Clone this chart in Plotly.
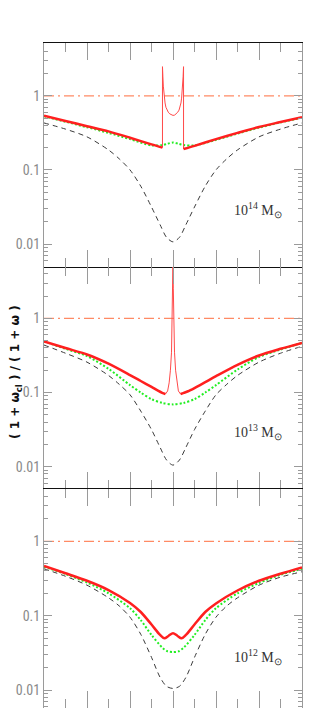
import plotly.graph_objects as go
from plotly.subplots import make_subplots

# ---------------- data ----------------
mass_labels = ["10<sup>14</sup> M<sub>⊙</sub>", "10<sup>13</sup> M<sub>⊙</sub>", "10<sup>12</sup> M<sub>⊙</sub>"]
ytick_vals = [0.01, 0.1, 1]
ytick_text = ["0.01", "0.1", "1"]
xtick_major = [-6, -4, -2, 0, 2, 4, 6]
xtick_minor = [-5, -3, -1, 1, 3, 5]

x_ref = [-6, 6]
y_ref = [1, 1]

x_dash = [-6, -5, -4, -3, -2.5, -2, -1.5, -1, -0.6, -0.3, 0, 0.3, 0.6, 1, 1.5, 2, 2.5, 3, 4, 5, 6]
# panel 1 (10^14)
p1_dash = [0.43, 0.355, 0.279, 0.186, 0.141, 0.100, 0.0603, 0.0316, 0.0182, 0.0123, 0.0107,
           0.0123, 0.0182, 0.0316, 0.0603, 0.100, 0.141, 0.186, 0.279, 0.355, 0.43]
p1_green_x = [-6, -5, -4, -3, -2, -1, -0.5, -0.25, 0, 0.25, 0.5, 1, 2, 3, 4, 5, 6]
p1_green = [0.531, 0.447, 0.376, 0.316, 0.260, 0.214, 0.216, 0.226, 0.234, 0.226, 0.216, 0.214,
            0.254, 0.309, 0.372, 0.437, 0.507]
p1_red_left_x = [-6, -5, -4, -3, -2, -1, -0.49]
p1_red_left = [0.537, 0.457, 0.389, 0.331, 0.272, 0.221, 0.200]
p1_red_right_x = [0.49, 1, 2, 3, 4, 5, 6]
p1_red_right = [0.191, 0.211, 0.260, 0.316, 0.380, 0.442, 0.513]
p1_thin_x = [-0.49, -0.49, -0.47, -0.45, -0.43, -0.40, -0.37, -0.33, -0.28, -0.22, -0.15, -0.08, 0,
             0.08, 0.15, 0.22, 0.28, 0.33, 0.37, 0.40, 0.43, 0.45, 0.47, 0.49, 0.49]
p1_thin = [0.200, 2.47, 1.8, 1.35, 1.15, 0.93, 0.80, 0.70, 0.64, 0.60, 0.57, 0.55, 0.543,
           0.55, 0.57, 0.60, 0.64, 0.70, 0.80, 0.93, 1.15, 1.35, 1.8, 2.47, 0.191]

# panel 2 (10^13)
p2_dash = [0.437, 0.339, 0.257, 0.170, 0.129, 0.0933, 0.0562, 0.0316, 0.0182, 0.0123, 0.0105,
           0.0123, 0.0182, 0.0316, 0.0562, 0.0933, 0.129, 0.170, 0.257, 0.339, 0.42]
p2_green_x = [-6, -5, -4, -3, -2, -1.5, -1, -0.5, 0, 0.5, 1, 1.5, 2, 3, 4, 5, 6]
p2_green = [0.490, 0.389, 0.309, 0.209, 0.126, 0.100, 0.0813, 0.0724, 0.0692, 0.0724, 0.0813,
            0.100, 0.126, 0.204, 0.302, 0.380, 0.468]
p2_red_left_x = [-6, -5, -4, -3, -2, -1.5, -1, -0.7, -0.5, -0.35]
p2_red_left = [0.490, 0.398, 0.326, 0.245, 0.172, 0.143, 0.119, 0.106, 0.099, 0.0955]
p2_red_right_x = [0.35, 0.5, 0.7, 1, 1.5, 2, 3, 4, 5, 6]
p2_red_right = [0.0955, 0.099, 0.104, 0.115, 0.138, 0.166, 0.236, 0.316, 0.389, 0.468]
p2_spike_x = [-0.35, -0.25, -0.18, -0.12, -0.07, -0.035, -0.015, 0,
              0.015, 0.035, 0.07, 0.12, 0.18, 0.25, 0.35]
p2_spike = [0.0955, 0.105, 0.135, 0.20, 0.35, 1.0, 2.5, 6.3,
            2.5, 1.0, 0.35, 0.20, 0.135, 0.105, 0.0955]

# panel 3 (10^12)
p3_dash = [0.427, 0.339, 0.257, 0.174, 0.135, 0.0955, 0.0562, 0.0275, 0.0148, 0.0112, 0.0105,
           0.0112, 0.0148, 0.0275, 0.0562, 0.0955, 0.135, 0.174, 0.257, 0.33, 0.39]
p3_green_x = [-6, -5, -4, -3, -2, -1.5, -1, -0.5, -0.25, 0, 0.25, 0.5, 1, 1.5, 2, 3, 4, 5, 6]
p3_green = [0.457, 0.363, 0.279, 0.200, 0.126, 0.0871, 0.0550, 0.0372, 0.0331, 0.0324, 0.0331,
            0.0372, 0.0550, 0.0871, 0.126, 0.200, 0.275, 0.355, 0.427]
p3_red_x = [-6, -5, -4, -3, -2, -1.5, -1, -0.6, -0.4, -0.2, 0, 0.2, 0.4, 0.6, 1, 1.5, 2, 3, 4, 5, 6]
p3_red = [0.465, 0.372, 0.295, 0.221, 0.148, 0.112, 0.0759, 0.0550, 0.0495, 0.0537, 0.0582,
          0.0537, 0.0495, 0.0550, 0.0759, 0.112, 0.146, 0.218, 0.295, 0.367, 0.447]

# ---------------- styles ----------------
C_DASH = "#3a3a3a"
C_GREEN = "#22ee22"
C_RED = "#ff1f1f"
C_THIN = "#ff4a4a"
C_REF = "#ff8a65"
TICK_C = "#9a9a9a"
LABEL_FONT = "Liberation Sans Narrow, Roboto Condensed, DejaVu Sans Condensed, Liberation Serif"

fig = make_subplots(rows=3, cols=1, vertical_spacing=0)


def add(row, x, y, color, width, dash, shape="spline"):
    fig.add_trace(go.Scatter(x=x, y=y, mode="lines",
                             line=dict(color=color, width=width, dash=dash, shape=shape,
                                       smoothing=0.8 if shape == "spline" else None),
                             showlegend=False, hoverinfo="skip"), row=row, col=1)


panels = [
    dict(dash=p1_dash, gx=p1_green_x, g=p1_green,
         reds=[(p1_red_left_x, p1_red_left), (p1_red_right_x, p1_red_right)],
         thin=(p1_thin_x, p1_thin)),
    dict(dash=p2_dash, gx=p2_green_x, g=p2_green,
         reds=[(p2_red_left_x, p2_red_left), (p2_red_right_x, p2_red_right)],
         thin=(p2_spike_x, p2_spike)),
    dict(dash=p3_dash, gx=p3_green_x, g=p3_green,
         reds=[(p3_red_x, p3_red)], thin=None),
]

for i, p in enumerate(panels, start=1):
    add(i, x_ref, y_ref, C_REF, 1.2, "10px,4px,2px,4px", "linear")
    add(i, x_dash, p["dash"], C_DASH, 1, "5px,4px")
    add(i, p["gx"], p["g"], C_GREEN, 2, "2px,2px")
    if p["thin"] is not None:
        add(i, p["thin"][0], p["thin"][1], C_THIN, 1, "solid", "linear")
    for rx, ry in p["reds"]:
        add(i, rx, ry, C_RED, 2.5, "solid")

# layout geometry (page body has an 8px margin, so coordinates are shifted by 8)
OFF = 8
W, H = 319 - OFF, 708 - OFF
top, left, right = 43 - OFF, 44 - OFF, 17
plot_h = H - top
plot_w = W - left - right


def py(px):
    return (H - (px - OFF)) / plot_h


def pxx(px):
    return (px - OFF - left) / plot_w


b1 = py(267)
b2 = py(489)
domains = [[b1, 1.0], [b2, b1], [0.0, b2]]
yranges = [[-2.31, 0.712], [-2.301, 0.693], [-2.242, 0.704]]

for i in range(1, 4):
    fig.update_xaxes(range=[-6, 6], tickmode="array", tickvals=xtick_major,
                     ticks="inside", ticklen=17, tickwidth=1,
                     tickcolor=TICK_C, showticklabels=False, showgrid=False, zeroline=False,
                     showline=(i != 2), linecolor="#111111", linewidth=1.3, mirror="allticks",
                     minor=dict(tickmode="array", tickvals=xtick_minor, ticks="inside",
                                ticklen=9, tickcolor=TICK_C, tickwidth=1, showgrid=False),
                     layer="above traces",
                     row=i, col=1)
    fig.update_yaxes(type="log", range=yranges[i - 1], domain=domains[i - 1],
                     tickvals=ytick_vals, ticktext=ytick_text, ticks="inside", ticklen=8,
                     tickwidth=1, tickcolor=TICK_C, showgrid=False, zeroline=False,
                     showline=True, linecolor="#9a9a9a", linewidth=1, mirror="allticks",
                     tickfont=dict(family=LABEL_FONT, size=14, color="#8a8a8a"),
                     minor=dict(dtick="D1", ticks="inside", ticklen=4, tickcolor=TICK_C,
                                tickwidth=1, showgrid=False),
                     layer="above traces",
                     row=i, col=1)

# mass labels
label_y_px = [210, 432, 657]
for txt, ypx in zip(mass_labels, label_y_px):
    fig.add_annotation(xref="paper", yref="paper", x=pxx(258), y=py(ypx), text=txt,
                       showarrow=False,
                       font=dict(family="Liberation Serif", size=14, color="#333333"),
                       xanchor="center", yanchor="middle")

# y-axis title
fig.add_annotation(xref="paper", yref="paper", x=pxx(16), y=py(372),
                   text="<b>( 1 + ω<sub>cl</sub> ) / ( 1 + ω )</b>", showarrow=False,
                   textangle=-90, font=dict(family="DejaVu Sans", size=12, color="#111111"),
                   xanchor="center", yanchor="middle")

fig.update_layout(width=W, height=H, margin=dict(l=left, r=right, t=top, b=0, pad=0),
                  plot_bgcolor="white", paper_bgcolor="white", showlegend=False)

fig.write_html("out.html")
